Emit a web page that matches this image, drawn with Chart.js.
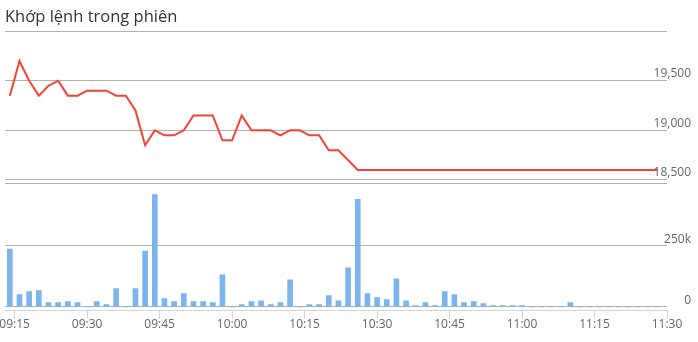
<!DOCTYPE html>
<html>
<head>
<meta charset="utf-8">
<script src="https://cdn.jsdelivr.net/npm/chart.js@4.4.1/dist/chart.umd.min.js"></script>
<style>
  html, body { margin: 0; padding: 0; background: #fff; }
</style>
</head>
<body>
<canvas id="sessionChart" width="698" height="342"></canvas>
<script>

// ======================
// DATA
// ======================

const times = [
  "09:14", "09:16", "09:18", "09:20", "09:22", "09:24", "09:26", "09:28",
  "09:30", "09:32", "09:34", "09:36", "09:38", "09:40", "09:42", "09:44",
  "09:46", "09:48", "09:50", "09:52", "09:54", "09:56", "09:58",
  "10:00", "10:02", "10:04", "10:06", "10:08", "10:10", "10:12", "10:14",
  "10:16", "10:18", "10:20", "10:22", "10:24", "10:26", "10:28", "10:30",
  "10:32", "10:34", "10:36", "10:38", "10:40", "10:42", "10:44", "10:46",
  "10:48", "10:50", "10:52", "10:54", "10:56", "10:58",
  "11:00", "11:02", "11:04", "11:06", "11:08", "11:10", "11:12", "11:14",
  "11:16", "11:18", "11:20", "11:22", "11:24", "11:26", "11:28"
];

const prices = [
  19350, 19700, 19500, 19350, 19450, 19500, 19350, 19350,
  19400, 19400, 19400, 19350, 19350, 19200, 18850, 19000,
  18950, 18950, 19000, 19150, 19150, 19150, 18900,
  18900, 19150, 19000, 19000, 19000, 18950, 19000, 19000,
  18950, 18950, 18800, 18800, 18700, 18600, 18600, 18600,
  18600, 18600, 18600, 18600, 18600, 18600, 18600, 18600,
  18600, 18600, 18600, 18600, 18600, 18600,
  18600, 18600, 18600, 18600, 18600, 18600, 18600, 18600,
  18600, 18600, 18600, 18600, 18600, 18600, 18600
];

const volumes = [
  235000, 50000, 62000, 66000, 17000, 17000, 21000, 17000,
  0, 21000, 9000, 74000, 0, 74000, 227000, 457000,
  34000, 21000, 54000, 21000, 21000, 17000, 130000,
  0, 9000, 21000, 25000, 9000, 17000, 110000, 0,
  9000, 9000, 46000, 25000, 159000, 437000, 54000, 38000,
  30000, 114000, 25000, 5000, 17000, 5000, 62000, 50000,
  17000, 21000, 13000, 5000, 5000, 5000,
  5000, 0, 0, 0, 0, 17000, 0, 0,
  0, 0, 0, 0, 0, 0, 0
];

const timeTicks = [
  "09:15", "09:30", "09:45", "10:00", "10:15",
  "10:30", "10:45", "11:00", "11:15", "11:30"
];

const priceTicks = [18500, 19000, 19500, 20000];
const volumeTicks = [0, 250000, 500000];


// ======================
// STYLE
// ======================

const lineRed = "#f44336";
const barBlue = "#7cb5ec";
const gridGray = "#b0b0b0";
const axisBlue = "#ccd6eb";
const labelColor = "#666666";
const fontFamily = "'Open Sans', 'Noto Sans', sans-serif";


// ======================
// HELPERS
// ======================

function toMinutes(hhmm) {
  const parts = hhmm.split(":");
  return Number(parts[0]) * 60 + Number(parts[1]);
}

function toClock(minutes) {
  const h = Math.floor(minutes / 60);
  const m = Math.round(minutes - h * 60);
  return String(h).padStart(2, "0") + ":" + String(m).padStart(2, "0");
}

function setTicks(values) {
  return function(scale) {
    scale.ticks = values.map(v => ({ value: v }));
  };
}


// ======================
// CHART
// ======================

const canvas = document.getElementById("sessionChart");

new Chart(canvas, {

  type: "line",

  data: {
    datasets: [
      {
        type: "line",
        label: "Giá",
        data: times.map((t, i) => ({ x: toMinutes(t), y: prices[i] })),
        yAxisID: "price",
        borderColor: lineRed,
        borderWidth: 2,
        pointRadius: 0,
        tension: 0,
        fill: false
      },
      {
        type: "bar",
        label: "Khối lượng",
        data: times.map((t, i) => ({ x: toMinutes(t), y: volumes[i] })),
        yAxisID: "volume",
        backgroundColor: barBlue,
        borderWidth: 0,
        barThickness: 5
      }
    ]
  },

  options: {
    responsive: false,
    animation: false,
    devicePixelRatio: 1,
    layout: {
      // chart area ends up at x 5..667, y ~29.7..312
      padding: { left: 5, right: 0, top: 0, bottom: 5.4 }
    },
    plugins: {
      legend: { display: false },
      tooltip: { enabled: false },
      title: {
        display: true,
        text: "Khớp lệnh trong phiên",
        align: "start",
        color: "#333333",
        font: { family: fontFamily, size: 16.5, weight: "normal" },
        padding: { top: 4.5, bottom: 4 }
      }
    },
    scales: {
      x: {
        type: "linear",
        min: toMinutes("09:13"),
        max: toMinutes("11:30"),
        offset: false,
        afterBuildTicks: setTicks(timeTicks.map(toMinutes)),
        ticks: {
          callback: v => toClock(v),
          color: labelColor,
          font: { family: fontFamily, size: 12 },
          padding: -1,
          maxRotation: 0,
          autoSkip: false
        },
        grid: {
          drawOnChartArea: false,
          drawTicks: true,
          tickLength: 8,
          color: axisBlue,
          offset: false
        },
        border: { color: axisBlue }
      },
      price: {
        type: "linear",
        position: "right",
        stack: "panels",
        stackWeight: 154,
        min: 18460,
        max: 20000,
        afterBuildTicks: setTicks(priceTicks),
        afterFit: scale => { scale.width = 31; },
        ticks: {
          callback: v => (v === 20000 ? "" : v.toLocaleString("en-US")),
          color: labelColor,
          font: { family: fontFamily, size: 12 },
          mirror: true,
          crossAlign: "near",
          padding: 24,
          labelOffset: -7
        },
        grid: { color: gridGray, drawTicks: false },
        border: { display: false }
      },
      volume: {
        type: "linear",
        position: "right",
        stack: "panels",
        stackWeight: 128,
        min: -16000,
        max: 500000,
        afterBuildTicks: setTicks(volumeTicks),
        afterFit: scale => { scale.width = 31; },
        ticks: {
          callback: v => (v === 0 ? "0" : v === 500000 ? "" : (v / 1000) + "k"),
          color: labelColor,
          font: { family: fontFamily, size: 12 },
          mirror: true,
          crossAlign: "near",
          padding: 24,
          labelOffset: -6
        },
        grid: { color: gridGray, drawTicks: false },
        border: { display: false }
      }
    }
  }

});

</script>
</body>
</html>
